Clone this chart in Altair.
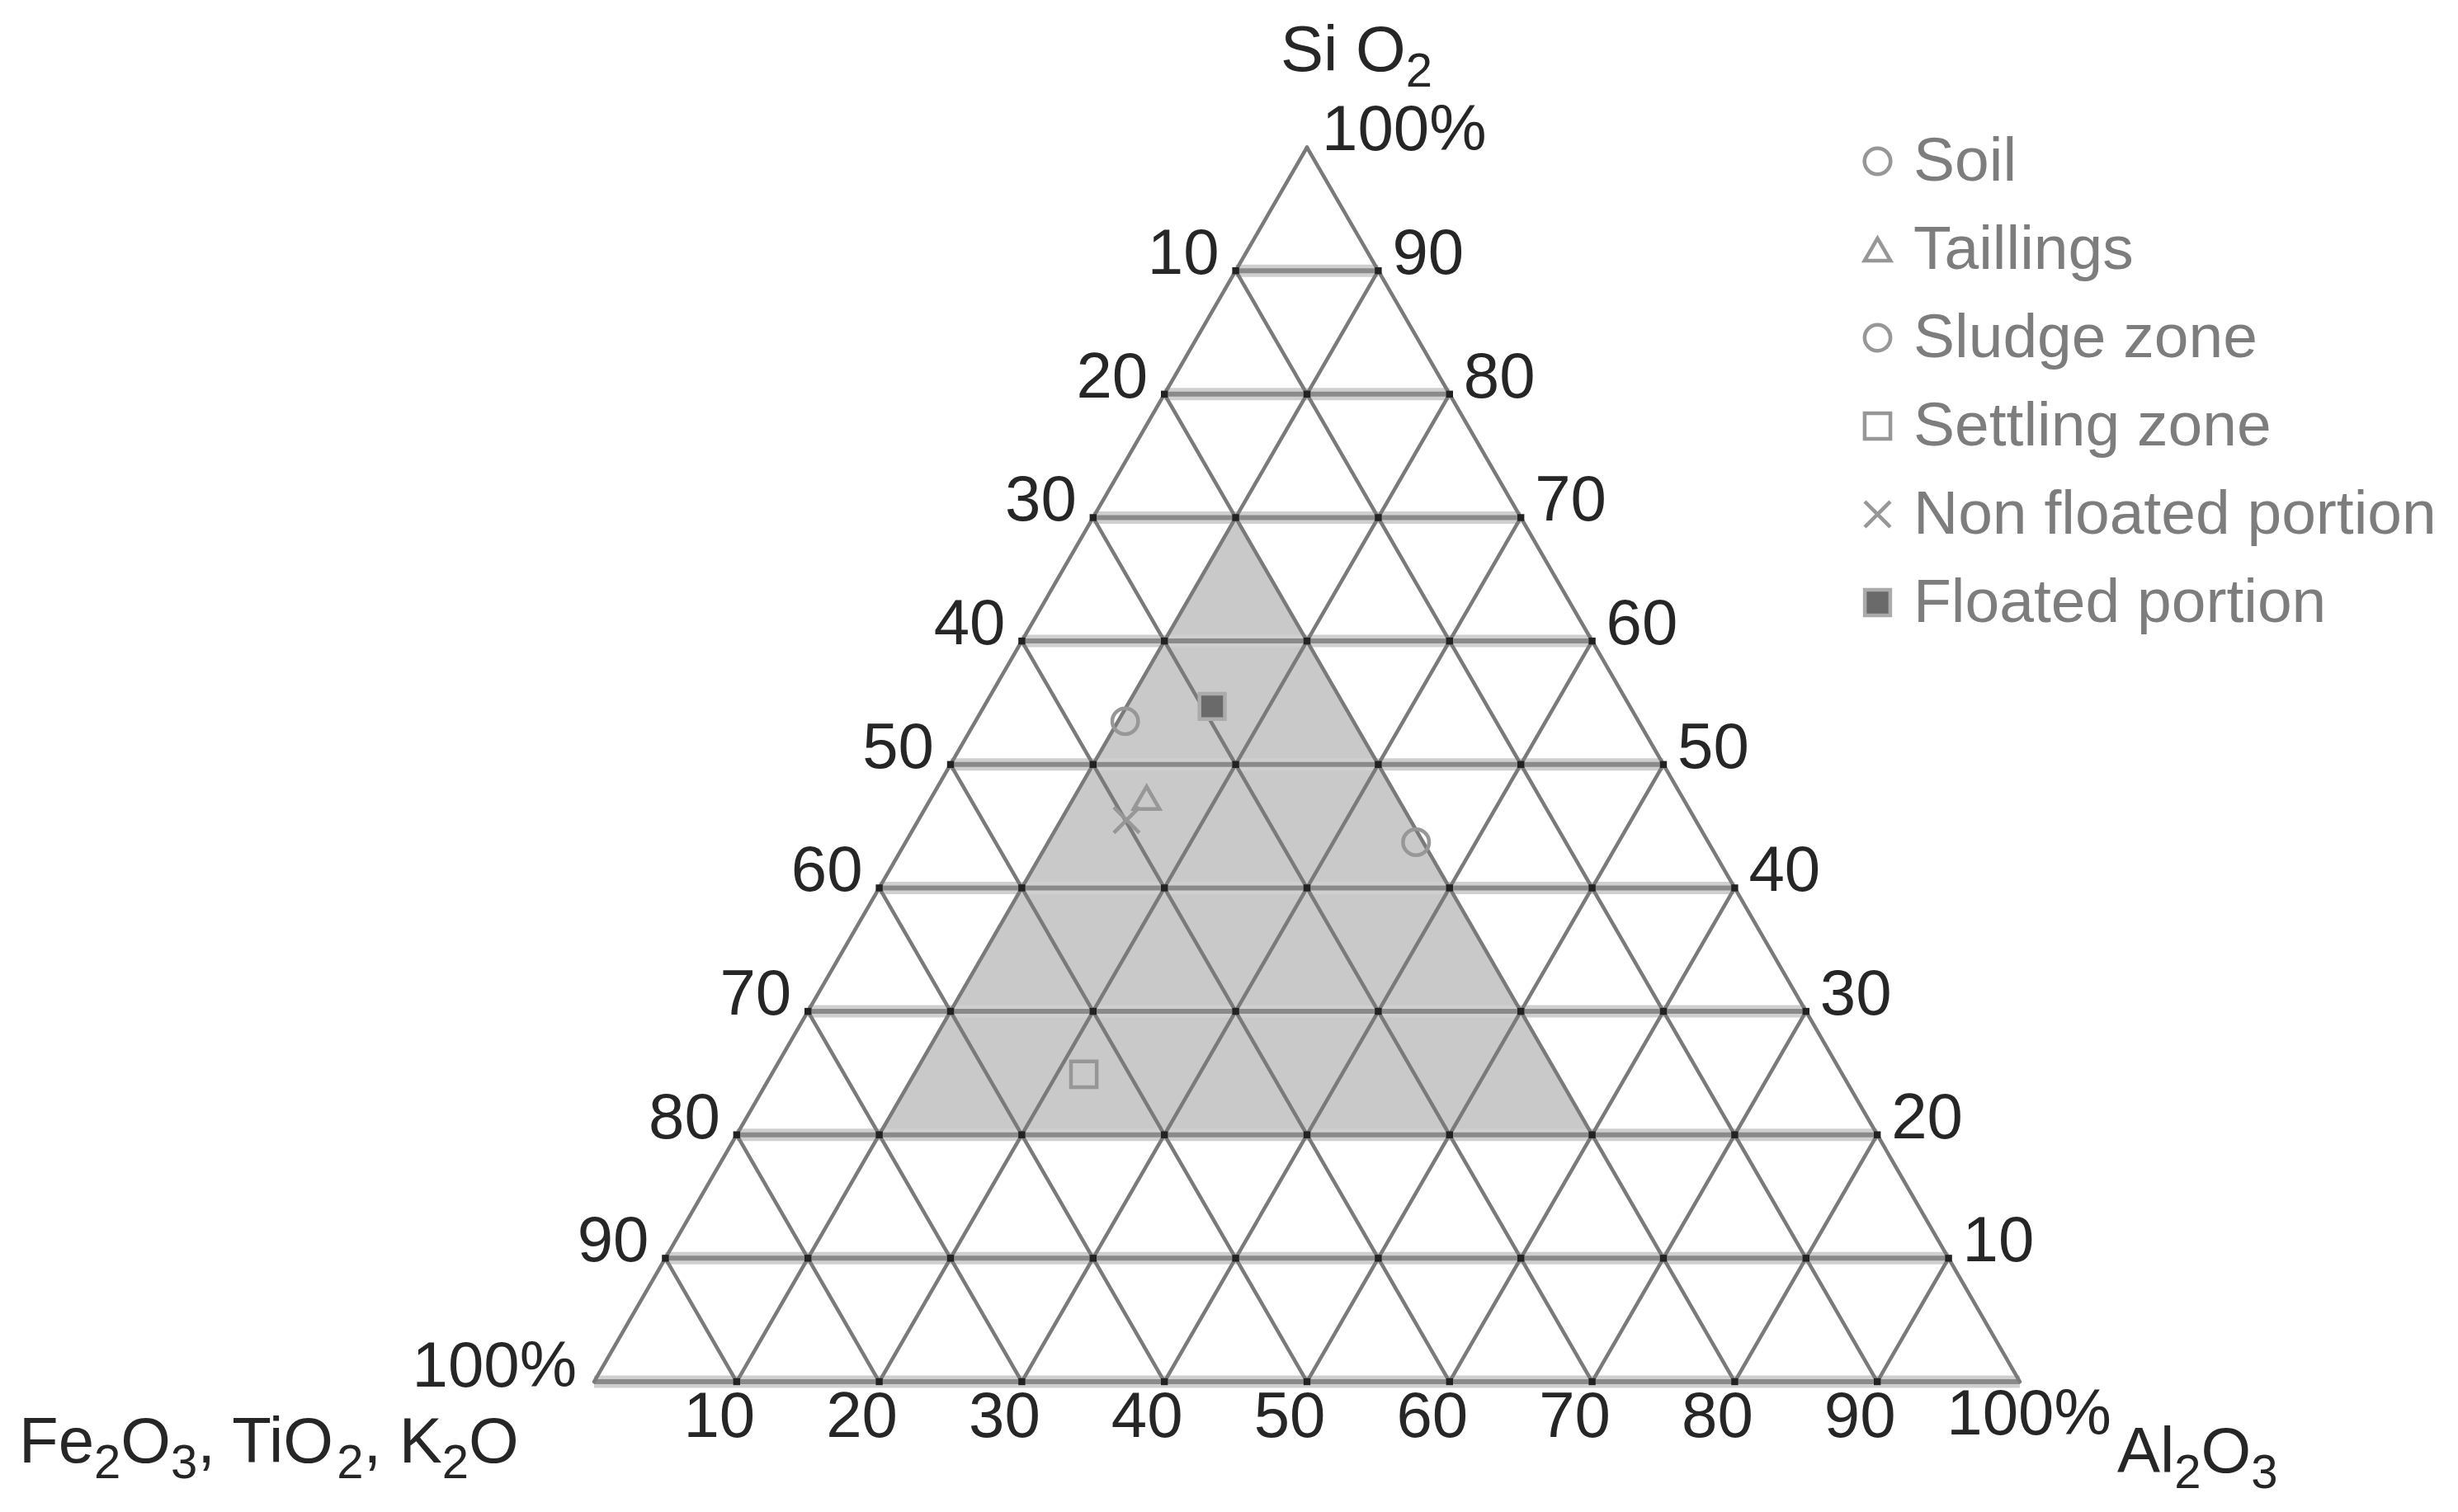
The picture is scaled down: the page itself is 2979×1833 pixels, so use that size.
import altair as alt
import numpy as np
import pandas as pd

# ---------------- data ----------------
samples = ["Soil", "Taillings", "Sludge zone", "Settling zone",
           "Non floated portion", "Floated portion"]
sio2 = [43.7, 47.3, 53.5, 24.9, 45.5, 54.7]
al2o3 = [35.8, 15.1, 10.5, 21.9, 14.6, 16.0]
fe2o3 = [20.5, 37.6, 36.0, 53.2, 39.9, 29.3]

grid_ticks = [10, 20, 30, 40, 50, 60, 70, 80, 90]
corner_label = "100%"

# shaded field vertices (SiO2, Al2O3); Fe2O3 is the remainder
zone_si = [20, 70, 20]
zone_al = [10, 10, 60]

# axis titles as (text, is_subscript) pieces
top_title = [("Si O", False), ("2", True)]
left_title = [("Fe", False), ("2", True), ("O", False), ("3", True),
              (", TiO", False), ("2", True), (", K", False), ("2", True), ("O", False)]
right_title = [("Al", False), ("2", True), ("O", False), ("3", True)]

# ---------------- geometry ----------------
H3 = np.sqrt(3) / 2


def cart(si, al):
    return al + si / 2.0, si * H3


PX = 17.28          # pixels per composition unit
W, H = 2960, 1815   # plot area
OX, OY = 720, 1675  # page position of the Fe2O3 corner
x_dom = [(8 - OX) / PX, (8 + W - OX) / PX]
y_dom = [(OY - 8 - H) / PX, (OY - 8) / PX]
xs = alt.Scale(domain=x_dom, nice=False, zero=False)
ys = alt.Scale(domain=y_dom, nice=False, zero=False)


def X(f="x"):
    return alt.X(f, type="quantitative", scale=xs, axis=None)


def Y(f="y"):
    return alt.Y(f, type="quantitative", scale=ys, axis=None)


# grid lines
hrows, drows = [], []
for s in [0] + grid_ticks:
    x1, y1 = cart(s, 0)
    x2, y2 = cart(s, 100 - s)
    hrows.append(dict(x=x1, y=y1, x2=x2, y2=y2))
for a in [0] + grid_ticks:
    x1, y1 = cart(0, a)
    x2, y2 = cart(100 - a, a)
    drows.append(dict(x=x1, y=y1, x2=x2, y2=y2))
for f in [0] + grid_ticks:
    x1, y1 = cart(0, 100 - f)
    x2, y2 = cart(100 - f, 0)
    drows.append(dict(x=x1, y=y1, x2=x2, y2=y2))
hdf = pd.DataFrame(hrows)
ddf = pd.DataFrame(drows)

nodes = []
for si in range(0, 101, 10):
    for al in range(0, 101 - si, 10):
        if (si, al) in [(0, 0), (100, 0), (0, 100)]:
            continue
        x, y = cart(si, al)
        nodes.append(dict(x=x, y=y))
ndf = pd.DataFrame(nodes)

# shaded zone
zx, zy = zip(*[cart(s, a) for s, a in zip(zone_si, zone_al)])
zdf = pd.DataFrame(dict(x=zx, y=zy, yb=[min(zy)] * 3))

# samples
px_, py_ = zip(*[cart(s, a) for s, a in zip(sio2, al2o3)])
sdf = pd.DataFrame(dict(sample=samples, x=px_, y=py_, SiO2=sio2,
                        Al2O3=al2o3, Fe2O3=fe2o3))

# tick labels
left_df = pd.DataFrame([dict(zip(["x", "y"], cart(100 - t, 0)), t=str(t)) for t in grid_ticks])
right_df = pd.DataFrame([dict(zip(["x", "y"], cart(t, 100 - t)), t=str(t)) for t in grid_ticks])
bot_df = pd.DataFrame([dict(zip(["x", "y"], cart(0, t)), t=str(t)) for t in grid_ticks])


def corner(si, al, text):
    x, y = cart(si, al)
    return pd.DataFrame([dict(x=x, y=y, t=text)])


FONT = "Liberation Sans"
TXT = "#262626"
FS = 78
SUB = 58
SUB_DROP = 19
# Arial / Liberation Sans advance widths (em) for the title glyphs
ADV = {"S": .667, "i": .222, " ": .278, "O": .778, "F": .611, "e": .556, ",": .278,
       "T": .611, "K": .667, "A": .667, "l": .222, "2": .556, "3": .556}

base_h_light = alt.Chart(hdf).mark_rule(color="#cfcfcf", strokeWidth=15, strokeCap="butt").encode(
    x=X(), y=Y(), x2=alt.X2("x2"), y2=alt.Y2("y2"))
base_h_dark = alt.Chart(hdf).mark_rule(color="#8a8a8a", strokeWidth=6, strokeCap="butt").encode(
    x=X(), y=Y(), x2=alt.X2("x2"), y2=alt.Y2("y2"))
diag = alt.Chart(ddf).mark_rule(color="#7a7a7a", strokeWidth=4.5, strokeCap="round").encode(
    x=X(), y=Y(), x2=alt.X2("x2"), y2=alt.Y2("y2"))
dots = alt.Chart(ndf).mark_square(color="#222222", size=70, opacity=1).encode(x=X(), y=Y())
zone = alt.Chart(zdf).mark_area(color="#c9c9c9", opacity=1, orient="vertical").encode(
    x=X(), y=Y(), y2=alt.Y2("yb"))

leg = alt.Legend(orient="none", legendX=2230, legendY=150, title=None,
                 labelFont=FONT, labelFontSize=75, labelColor="#7d7d7d",
                 rowPadding=31, labelOffset=6, symbolStrokeWidth=4.5,
                 labelLimit=2000, padding=0)

shape_range = ["circle", "triangle-up", "circle", "square",
               "M-1,-1L1,1M1,-1L-1,1", "square"]
fill_range = ["transparent"] * 5 + ["#6a6a6a"]
stroke_range = ["#979797"] * 5 + ["#ababab"]
size_range = [1000, 950, 850, 1100, 1000, 1100]

points = alt.Chart(sdf).mark_point(filled=True, opacity=1, strokeWidth=4.5).encode(
    x=X(), y=Y(),
    shape=alt.Shape("sample:N", scale=alt.Scale(domain=samples, range=shape_range), legend=leg),
    fill=alt.Fill("sample:N", scale=alt.Scale(domain=samples, range=fill_range), legend=leg),
    stroke=alt.Stroke("sample:N", scale=alt.Scale(domain=samples, range=stroke_range), legend=leg),
    size=alt.Size("sample:N", scale=alt.Scale(domain=samples, range=size_range), legend=leg),
    tooltip=["sample", "SiO2", "Al2O3", "Fe2O3"],
)


def tlayer(df, align, dx, dy, baseline="middle", size=FS):
    return alt.Chart(df).mark_text(font=FONT, fontSize=size, color=TXT, align=align,
                                   baseline=baseline, dx=dx, dy=dy).encode(
        x=X(), y=Y(), text="t:N")


def rich(si, al, pieces, dx0, dy0):
    out = []
    off = dx0
    for text, is_sub in pieces:
        fs = SUB if is_sub else FS
        out.append(tlayer(corner(si, al, text), "left", off,
                          dy0 + (SUB_DROP if is_sub else 0), baseline="alphabetic", size=fs))
        off += sum(ADV.get(c, .556) for c in text) * fs
    return out


labels = [
    tlayer(left_df, "right", -20, -19),
    tlayer(right_df, "left", 17, -19),
    tlayer(bot_df, "center", -21, 44),
    tlayer(corner(0, 0, corner_label), "right", -21, -17),
    tlayer(corner(100, 0, corner_label), "left", 18, -20),
    tlayer(corner(0, 100, corner_label), "center", 11, 41),
]
labels += rich(100, 0, top_title, -32, -93)
labels += rich(0, 0, left_title, -697, 98)
labels += rich(0, 100, right_title, 118, 110)

chart = alt.layer(zone, base_h_light, base_h_dark, diag, dots, points, *labels).properties(
    width=W, height=H, padding=0, autosize="none", background="white"
).configure_view(stroke=None)

chart.save("out.html", embed_options={"renderer": "svg", "actions": False})
